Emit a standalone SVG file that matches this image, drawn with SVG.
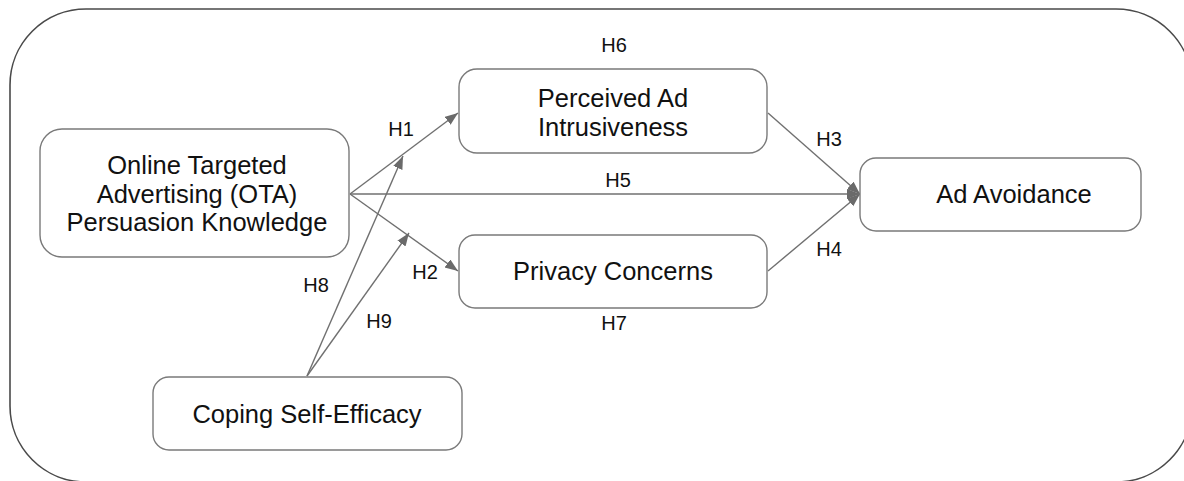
<svg xmlns="http://www.w3.org/2000/svg" width="1184" height="481" viewBox="0 0 1184 481">
<style>
.box{fill:#fff;stroke:#7a7a7a;stroke-width:1.4}
.t{font-family:"Liberation Sans",Arial,sans-serif;font-size:25.5px;fill:#111;text-anchor:middle}
.h{font-family:"Liberation Sans",Arial,sans-serif;font-size:20px;fill:#111;text-anchor:middle}
.c{fill:none;stroke:#707070;stroke-width:1.4}
</style>
<defs>
<marker id="ah" markerUnits="userSpaceOnUse" markerWidth="14" markerHeight="11" refX="13" refY="5" orient="auto">
<path d="M0,0 L13,5 L0,10 z" fill="#6a6a6a"/>
</marker>
</defs>
<rect width="1184" height="481" fill="#fff"/>
<rect id="frame" x="10" y="9" width="1182" height="473" rx="76" ry="76" fill="none" stroke="#4a4a4a" stroke-width="1.6"/>
<g id="connectors">
<line class="c" x1="350" y1="194" x2="458" y2="113" marker-end="url(#ah)"/>
<line class="c" x1="350" y1="194" x2="458" y2="271" marker-end="url(#ah)"/>
<line class="c" x1="350" y1="194" x2="860" y2="194" marker-end="url(#ah)"/>
<line class="c" x1="768" y1="113" x2="860" y2="194" marker-end="url(#ah)"/>
<line class="c" x1="768" y1="271" x2="860" y2="194" marker-end="url(#ah)"/>
<line class="c" x1="307" y1="376" x2="403" y2="156" marker-end="url(#ah)"/>
<line class="c" x1="307" y1="376" x2="409" y2="233" marker-end="url(#ah)"/>
<text class="h" x="401" y="136">H1</text>
<text class="h" x="425" y="279">H2</text>
<text class="h" x="829" y="146">H3</text>
<text class="h" x="829" y="256">H4</text>
<text class="h" x="618" y="187">H5</text>
<text class="h" x="614" y="52">H6</text>
<text class="h" x="614" y="330">H7</text>
<text class="h" x="316" y="292">H8</text>
<text class="h" x="379" y="328">H9</text>
</g>
<g id="ota">
<rect class="box" x="40" y="129" width="309" height="128" rx="22"/>
<text class="t" x="197" y="174">Online Targeted</text>
<text class="t" x="197" y="203">Advertising (OTA)</text>
<text class="t" x="197" y="231">Persuasion Knowledge</text>
</g>
<g id="intrusiveness">
<rect class="box" x="459" y="69" width="308" height="84" rx="18"/>
<text class="t" x="613" y="107">Perceived Ad</text>
<text class="t" x="613" y="136">Intrusiveness</text>
</g>
<g id="privacy">
<rect class="box" x="459" y="235" width="308" height="73" rx="16"/>
<text class="t" x="613" y="280">Privacy Concerns</text>
</g>
<g id="avoidance">
<rect class="box" x="860" y="158" width="281" height="73" rx="16"/>
<text class="t" x="1014" y="203">Ad Avoidance</text>
</g>
<g id="coping">
<rect class="box" x="153" y="377" width="309" height="73" rx="16"/>
<text class="t" x="307" y="423">Coping Self-Efficacy</text>
</g>
</svg>
